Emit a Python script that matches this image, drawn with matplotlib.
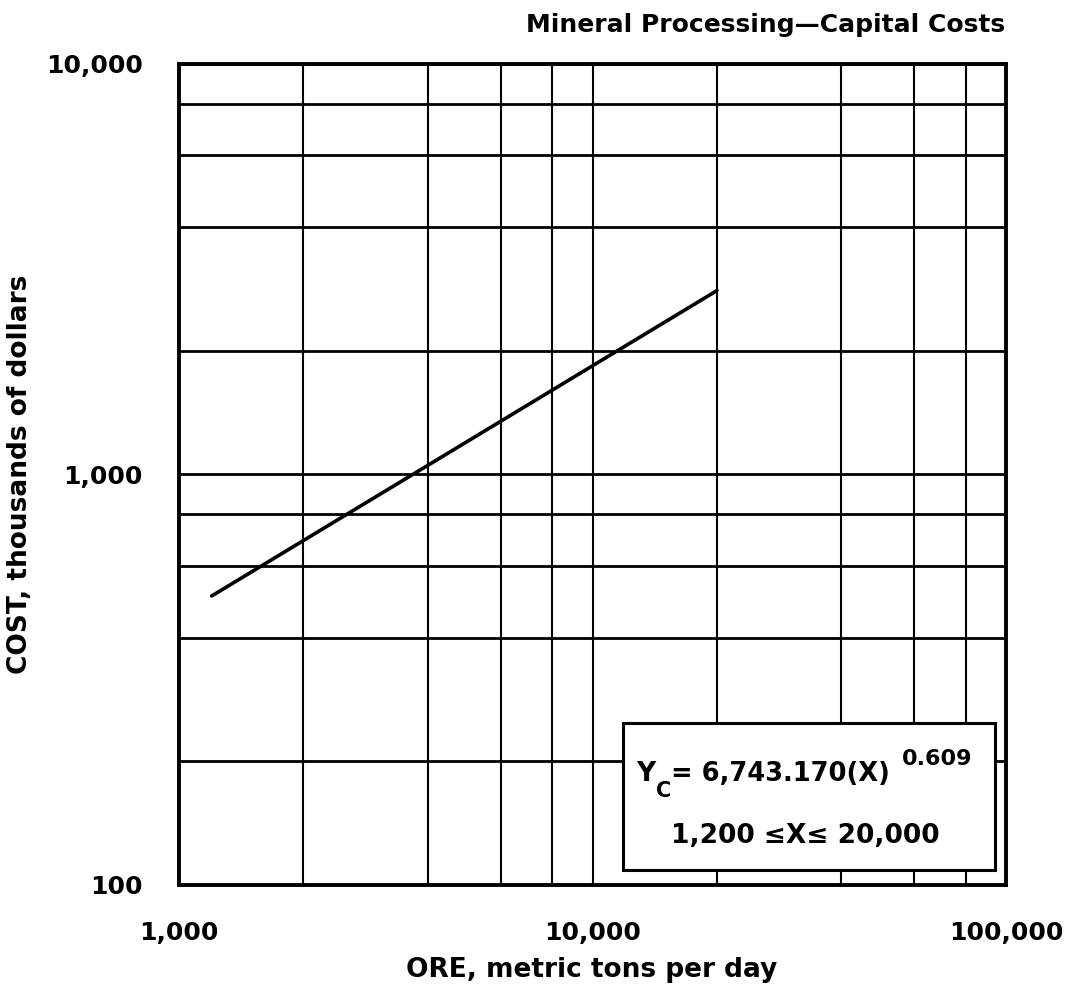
import matplotlib
matplotlib.use('Agg')
import matplotlib.pyplot as plt
from matplotlib.patches import Rectangle
from matplotlib.ticker import NullFormatter

# Capital cost curve for mineral processing (end points of the fitted range)
ORE_TPD = [1200, 20000]
COST_K = [506, 2806]

X_MAJOR = [1000, 10000, 100000]
X_MAJOR_LABELS = ['1,000', '10,000', '100,000']
X_MINOR = [2000, 4000, 6000, 8000, 20000, 40000, 60000, 80000]
Y_MAJOR = [100, 1000, 10000]
Y_MAJOR_LABELS = ['100', '1,000', '10,000']
Y_MINOR = [200, 400, 600, 800, 2000, 4000, 6000, 8000]

W, H = 1069, 1006
plt.rcParams['font.family'] = ['DejaVu Sans']
plt.rcParams['font.weight'] = 'bold'

fig = plt.figure(figsize=(W / 100, H / 100), dpi=100)


def px(x, y):
    """pixel position (from top-left) -> figure fraction"""
    return x / W, 1 - y / H


ax = fig.add_axes([179 / W, 1 - 885 / H, (1006 - 179) / W, (885 - 64) / H])
ax.set_xscale('log')
ax.set_yscale('log')
ax.set_xlim(1000, 100000)
ax.set_ylim(100, 10000)

ax.set_xticks(X_MAJOR, X_MAJOR_LABELS)
ax.set_xticks(X_MINOR, minor=True)
ax.set_yticks(Y_MAJOR, Y_MAJOR_LABELS)
ax.set_yticks(Y_MINOR, minor=True)
ax.xaxis.set_minor_formatter(NullFormatter())
ax.yaxis.set_minor_formatter(NullFormatter())
ax.tick_params(which='both', length=0)
ax.tick_params(axis='x', pad=26, labelsize=18)
ax.tick_params(axis='y', pad=26, labelsize=18)

ax.grid(which='both', axis='x', color='black', linewidth=1.5)
ax.grid(which='both', axis='y', color='black', linewidth=2.0)
ax.set_axisbelow(True)
for s in ax.spines.values():
    s.set_linewidth(2.8)

ax.plot(ORE_TPD, COST_K, color='black', linewidth=2.6, solid_capstyle='round', zorder=4)

# equation box
box = Rectangle((0.537, 0.018), 0.45, 0.179, transform=ax.transAxes,
                facecolor='white', edgecolor='black', linewidth=2.2, zorder=5)
ax.add_patch(box)

fig.text(*px(636, 781), 'Y', fontsize=19, va='baseline', zorder=6)
fig.text(*px(656, 797), 'C', fontsize=15, va='baseline', zorder=6)
fig.text(*px(671, 781), '= 6,743.170(X)', fontsize=18.5, va='baseline', zorder=6)
fig.text(*px(902, 765), '0.609', fontsize=16, va='baseline', zorder=6)
fig.text(*px(805, 843), '1,200 \u2264X\u2264 20,000', fontsize=19, ha='center',
         va='baseline', zorder=6)

fig.text(*px(1005, 32), 'Mineral Processing\u2014Capital Costs', fontsize=18,
         ha='right', va='baseline')
fig.text(*px(592, 970), 'ORE, metric tons per day', fontsize=19,
         ha='center', va='center')
fig.text(*px(20, 474), 'COST, thousands of dollars', fontsize=19,
         ha='center', va='center', rotation=90)

fig.savefig('out.png', dpi=100)
